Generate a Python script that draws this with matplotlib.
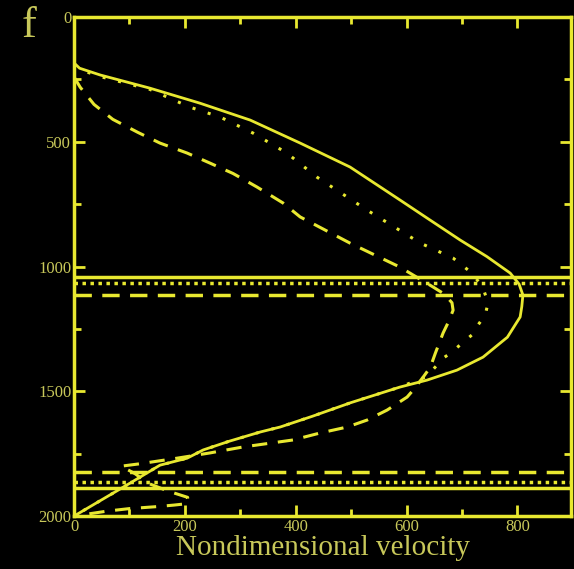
import matplotlib
matplotlib.use("Agg")
import matplotlib.pyplot as plt
from matplotlib.ticker import MultipleLocator

# ---------------------------------------------
# DATA (velocity, depth)
# ---------------------------------------------
solid_v = [0, 10, 47, 137, 227, 318, 408, 498, 588, 640, 697, 745, 787, 803, 810,
           808, 805, 782, 738, 691, 637, 588, 500, 430, 372, 336, 280, 233, 204,
           155, 101, 0]
solid_d = [184, 205, 232, 285, 345, 413, 505, 601, 733, 810, 894, 960, 1026, 1070, 1114,
           1160, 1202, 1283, 1363, 1415, 1455, 1483, 1545, 1600, 1643, 1663, 1700, 1735, 1768,
           1796, 1868, 2000]

dotted_v = [0, 12, 50, 137, 209, 264, 323, 384, 438, 529, 625, 684, 718, 738, 747,
            742, 729, 718, 700, 682, 666, 637, 588, 500, 430, 372, 336, 280, 233,
            204, 155, 101, 0]
dotted_d = [190, 212, 240, 290, 361, 401, 465, 545, 641, 774, 906, 966, 1026, 1085, 1146,
            1194, 1234, 1274, 1307, 1343, 1367, 1440, 1483, 1545, 1600, 1643, 1663, 1700, 1735,
            1768, 1796, 1868, 2000]

dashed_v = [0, 11, 36, 70, 115, 155, 204, 245, 287, 330, 377, 408, 498, 588, 648,
            668, 682, 684, 676, 666, 652, 643, 630, 612, 601, 565, 529, 493, 444, 395,
            305, 245, 180, 120, 85, 110, 133, 170, 205, 205, 180, 150, 100, 60, 0]
dashed_d = [240, 281, 350, 410, 462, 505, 545, 585, 627, 681, 745, 801, 906, 1002, 1082,
            1110, 1145, 1175, 1220, 1266, 1347, 1403, 1443, 1495, 1523, 1575, 1615, 1643, 1667, 1695,
            1723, 1747, 1770, 1790, 1800, 1830, 1868, 1900, 1925, 1950, 1956, 1962, 1970, 1980, 2000]

# horizontal interface depths
solid_levels = [1040, 1888]
dotted_levels = [1064, 1864]
dashed_levels = [1113, 1824]

line_col = "#e8e830"
text_col = "#c8c85a"

plt.rcParams["font.family"] = ["Liberation Serif", "DejaVu Serif"]

fig = plt.figure(figsize=(5.74, 5.69), dpi=100, facecolor="black")
ax = fig.add_axes([0.129, 0.093, 0.866, 0.877], facecolor="black")

ax.plot(solid_v, solid_d, color=line_col, lw=2.0, ls="-")
ax.plot(dotted_v, dotted_d, color=line_col, lw=2.2, ls=(0, (1, 4.2)))
ax.plot(dashed_v, dashed_d, color=line_col, lw=2.2, ls=(0, (5, 3.5)))

for d in solid_levels:
    ax.axhline(d, color=line_col, lw=2.5, ls="-")
for d in dotted_levels:
    ax.axhline(d, color=line_col, lw=2.5, ls=(0, (1, 1.3)))
for d in dashed_levels:
    ax.axhline(d, color=line_col, lw=2.5, ls=(0, (5, 3)))

ax.set_xlim(0, 897)
ax.set_ylim(2000, 0)

ax.xaxis.set_major_locator(MultipleLocator(200))
ax.xaxis.set_minor_locator(MultipleLocator(100))
ax.yaxis.set_major_locator(MultipleLocator(500))
ax.yaxis.set_minor_locator(MultipleLocator(250))

for s in ax.spines.values():
    s.set_color(line_col)
    s.set_linewidth(2.5)

ax.tick_params(which="both", direction="in", top=True, right=True,
               color=line_col, labelcolor=text_col, labelsize=12, pad=2)
ax.tick_params(which="major", length=8, width=2)
ax.tick_params(which="minor", length=5, width=2)

ax.set_xlabel("Nondimensional velocity", color=text_col, fontsize=21, labelpad=0)
fig.text(0.038, 0.935, "f", color=text_col, fontsize=32)

fig.savefig("out.png", dpi=100, facecolor="black")
